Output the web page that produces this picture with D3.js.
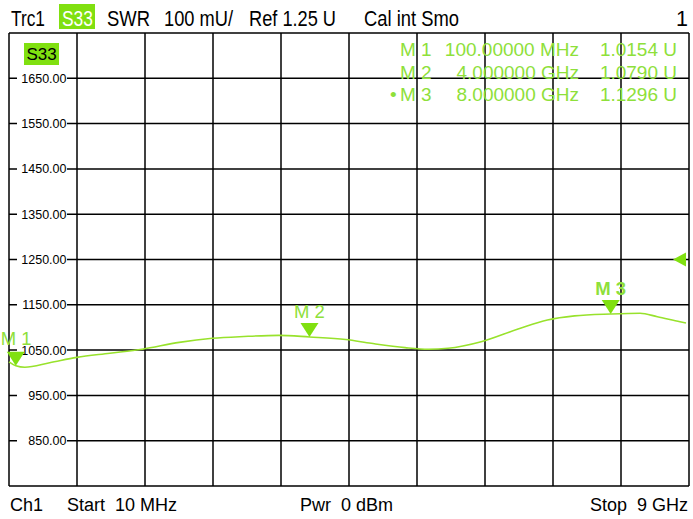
<!DOCTYPE html>
<html><head><meta charset="utf-8">
<script src="https://cdn.jsdelivr.net/npm/d3@7"></script>
<style>
html,body{margin:0;padding:0;background:#fff;}
svg{display:block;}
text{font-family:"Liberation Sans",Arial,sans-serif;}
</style></head>
<body>
<svg id="chart" width="693" height="519"></svg>
<script>
// ---------- data ----------
const freqGHz = [0.01, 0.1, 0.22, 0.55, 0.91, 1.35, 1.78, 2.27, 2.71, 3.13, 3.59, 4.0, 4.48, 4.82, 5.27, 5.58, 5.84, 6.28, 6.77, 7.16, 7.52, 8.0, 8.39, 8.62, 8.92, 9.0];
const swrU    = [1.024, 1.0154, 1.012, 1.022, 1.034, 1.043, 1.052, 1.067, 1.076, 1.080, 1.0825, 1.079, 1.0735, 1.065, 1.0555, 1.052, 1.054, 1.0685, 1.0965, 1.1165, 1.1255, 1.1296, 1.1312, 1.1237, 1.1127, 1.110];
const markerNames = ["M 1", "M 2", "M 3"];
const markerFreqGHz = [0.1, 4.0, 8.0];
const markerFreqText = ["100.00000 MHz", "4.000000 GHz", "8.000000 GHz"];
const markerValU = [1.0154, 1.0790, 1.1296];
const yTickValues = [850, 950, 1050, 1150, 1250, 1350, 1450, 1550, 1650];
const refValue = 1250;
const headerTexts = ["Trc1", "S33", "SWR", "100 mU/", "Ref 1.25 U", "Cal int Smo", "1"];
const footerTexts = ["Ch1", "Start  10 MHz", "Pwr  0 dBm", "Stop  9 GHz"];

// ---------- layout ----------
const X0 = 9, X1 = 689, Y0 = 33, Y1 = 486;
const green = "#80e010", traceColor = "#98e22c", textGreen = "#8ee03a";
const svg = d3.select("#chart");

const x = d3.scaleLinear().domain([0.01, 9]).range([X0, 686]);
const y = d3.scaleLinear().domain([750, 1750]).range([Y1, Y0]);
const gx = d3.scaleLinear().domain([0, 10]).range([X0, X1]);

// grid
const grid = svg.append("g").attr("stroke", "#000").attr("stroke-width", 1.5);
d3.range(11).forEach(i => {
  grid.append("line").attr("x1", gx(i)).attr("x2", gx(i)).attr("y1", Y0).attr("y2", Y1);
});
d3.range(750, 1751, 100).forEach(v => {
  grid.append("line").attr("x1", X0).attr("x2", X1).attr("y1", y(v)).attr("y2", y(v));
});

// y labels (inside first column, white background)
const fmt = d3.format(".2f");
const yl = svg.append("g");
yTickValues.forEach(v => {
  yl.append("rect").attr("x", 17).attr("y", y(v) - 6).attr("width", 50).attr("height", 12).attr("fill", "#fff");
  yl.append("text").attr("x", 66.5).attr("y", y(v) + 4.5).attr("text-anchor", "end")
    .attr("font-size", 12.5).attr("fill", "#000").text(fmt(v));
});

// S33 label inside plot
svg.append("rect").attr("x", 24).attr("y", 43).attr("width", 35).attr("height", 22).attr("fill", green);
svg.append("text").attr("x", 41.5).attr("y", 60).attr("text-anchor", "middle")
  .attr("font-size", 17).attr("fill", "#000").text("S33");

// marker table
const mt = svg.append("g").attr("fill", textGreen).attr("font-size", 19);
const rowY = [56, 78.5, 101];
markerNames.forEach((m, i) => {
  mt.append("text").attr("x", 400).attr("y", rowY[i]).text(m);
  mt.append("text").attr("x", 579).attr("y", rowY[i]).attr("text-anchor", "end").text(markerFreqText[i]);
  mt.append("text").attr("x", 677).attr("y", rowY[i]).attr("text-anchor", "end").text(d3.format(".4f")(markerValU[i]) + " U");
});
mt.append("text").attr("x", 390).attr("y", rowY[2]).attr("font-size", 19).text("•");

// trace
const data = freqGHz.map((f, i) => [f, swrU[i] * 1000]);
svg.append("path").datum(data)
  .attr("fill", "none").attr("stroke", traceColor).attr("stroke-width", 1.6)
  .attr("d", d3.line().x(d => x(d[0])).y(d => y(d[1])).curve(d3.curveMonotoneX));

// markers
markerFreqGHz.forEach((f, i) => {
  const px = x(f), py = y(markerValU[i] * 1000);
  svg.append("path").attr("fill", green)
    .attr("d", `M${px},${py}L${px - 9},${py - 14}L${px + 9},${py - 14}Z`);
  svg.append("text").attr("x", i === 0 ? px - 15 : px).attr("y", i === 0 ? py - 21 : py - 19)
    .attr("text-anchor", i === 0 ? "start" : "middle")
    .attr("font-size", 18.5).attr("fill", textGreen)
    .attr("font-weight", i === 2 ? "bold" : "normal").text(markerNames[i]);
});

// reference level marker (right edge)
const ry = y(refValue);
svg.append("path").attr("fill", green)
  .attr("d", `M${673},${ry}L${686},${ry - 7}L${686},${ry + 7}Z`);

// header
const hy = 26;
svg.append("rect").attr("x", 59).attr("y", 4).attr("width", 36).attr("height", 25).attr("fill", green);
const hdr = svg.append("g").attr("font-size", 21.5).attr("fill", "#000");
const hx = [11, 62, 107, 164, 249, 364];
const hw = [34, 31, 43, 69, 87, 95];
headerTexts.slice(0, 6).forEach((t, i) => {
  hdr.append("text").attr("x", hx[i]).attr("y", hy)
    .attr("textLength", hw[i]).attr("lengthAdjust", "spacingAndGlyphs")
    .attr("fill", i === 1 ? "#fff" : "#000").text(t);
});
hdr.append("text").attr("x", 688).attr("y", hy).attr("text-anchor", "end").text(headerTexts[6]);

// footer
const fy = 511;
const ftr = svg.append("g").attr("font-size", 18).attr("fill", "#000");
ftr.append("text").attr("x", 10).attr("y", fy).text(footerTexts[0]);
ftr.append("text").attr("x", 67).attr("y", fy).style("white-space", "pre").text(footerTexts[1]);
ftr.append("text").attr("x", 300).attr("y", fy).style("white-space", "pre").text(footerTexts[2]);
ftr.append("text").attr("x", 688).attr("y", fy).attr("text-anchor", "end").style("white-space", "pre").text(footerTexts[3]);
</script>
</body></html>
